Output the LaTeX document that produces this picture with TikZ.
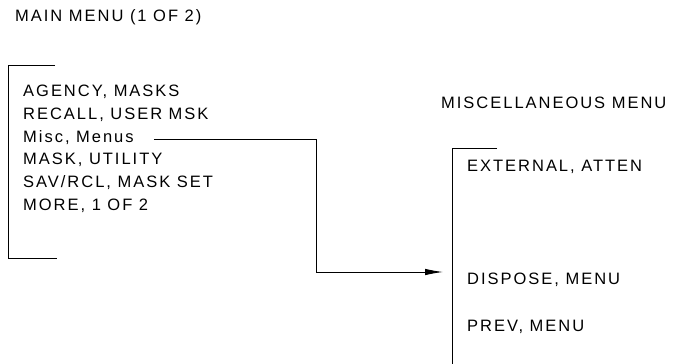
\documentclass[tikz,border=0pt]{standalone}
\usepackage{fontspec}
\setmainfont{Liberation Sans}[LetterSpace=12]
\usetikzlibrary{arrows.meta}
\tikzset{
  lbl/.style={anchor=west, inner sep=0pt, font=\fontsize{16.5}{18}\selectfont},
  brk/.style={line width=0.9pt},
  conn/.style={line width=0.9pt, -{Latex[length=18pt,width=6.5pt]}}
}
\begin{document}
\begin{tikzpicture}[x=1pt,y=-1pt]
\useasboundingbox (0,0) rectangle (673,364);
% titles
\node[lbl] (maint) at (15,17) {MAIN MENU (1 OF 2)};
\node[lbl] (misct) at (441,103) {MISCELLANEOUS MENU};
% left bracket
\draw[brk] (55,65) -- (8,65) -- (8,258) -- (57,258);
\node[lbl] (agency) at (23,92) {AGENCY, MASKS};
\node[lbl] (recall) at (23,115) {RECALL, USER MSK};
\node[lbl] (misc) at (23,138) {Misc, Menus};
\node[lbl] (mask) at (23,160) {MASK, UTILITY};
\node[lbl] (savrcl) at (23,183) {SAV/RCL, MASK SET};
\node[lbl] (more) at (23,206) {MORE, 1 OF 2};
% right bracket
\draw[brk] (497,148) -- (452,148) -- (452,364);
\node[lbl] (ext) at (467,167) {EXTERNAL, ATTEN};
\node[lbl] (dispose) at (467,280) {DISPOSE, MENU};
\node[lbl] (prev) at (467,327) {PREV, MENU};
% connector
\coordinate (bend) at (316,272);
\coordinate (tip) at (443,272);
\draw[conn] ([xshift=20pt,yshift=-1pt]misc.east) -| (bend) -- (tip);
\end{tikzpicture}
\end{document}
